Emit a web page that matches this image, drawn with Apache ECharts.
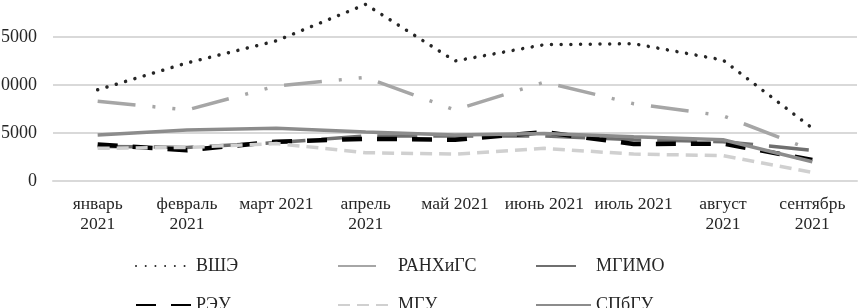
<!DOCTYPE html>
<html><head><meta charset="utf-8">
<script src="https://cdn.jsdelivr.net/npm/echarts@6/dist/echarts.min.js"></script>
<style>html,body{margin:0;padding:0;background:#fff;overflow:hidden}#c{width:860px;height:319px;margin-top:-11px}</style>
</head><body><div id="c"></div>
<script>
const categories = ['январь\n2021','февраль\n2021','март 2021','апрель\n2021','май 2021','июнь 2021','июль 2021','август\n2021','сентябрь\n2021'];
const hse   = [9500, 12300, 14600, 18400, 12500, 14200, 14300, 12600, 5500];
const ranepa= [8300, 7400, 9900, 10800, 7400, 10300, 8050, 6800, 3200];
const mgimo = [3600, 3500, 4000, 4700, 4700, 4700, 4300, 4100, 3200];
const reu   = [3800, 3200, 4100, 4400, 4300, 5100, 3850, 3900, 2200];
const msu   = [3400, 3500, 3900, 2950, 2800, 3400, 2800, 2650, 900];
const spbu  = [4800, 5300, 5500, 5100, 4800, 4950, 4600, 4300, 2000];
const yTicks = [0, 5000, 10000, 15000, 20000];

const font = '"Liberation Serif", "Times New Roman", serif';
function s(name, data, color, width, type, cap){
  return {name, type:'line', data, symbol:'none', smooth:false,
    lineStyle:{color, width, type, cap: cap||'butt'}, itemStyle:{color}};
}
const series = [
  s('ВШЭ', hse, '#262626', 3.5, [0.01, 9.7], 'round'),
  s('РАНХиГС', ranepa, '#a6a6a6', 3.5, [38,17,3,17,3,17]),
  s('МГИМО', mgimo, '#6f6f6f', 3.5, [40,16]),
  s('РЭУ', reu, '#000000', 4.5, [20,15]),
  s('МГУ', msu, '#d0d0d0', 3.5, [12,7]),
  s('СПбГУ', spbu, '#8c8c8c', 3.5, 'solid')
];
function lg(name, left, top){
  return {data:[name], left, top, itemWidth:55, itemHeight:14, padding:0,
    itemStyle:{opacity:0, borderWidth:0},
    textStyle:{fontFamily:font, fontSize:18, color:'#262626'}};
}
const chart = echarts.init(document.getElementById('c'));
chart.setOption({
  animation:false,
  grid:{left:53, right:3, top:0, bottom:127, outerBoundsMode:'none', containLabel:false},
  xAxis:{type:'category', data:categories, boundaryGap:true,
    axisLine:{lineStyle:{color:'#d9d9d9', width:2}}, axisTick:{show:false},
    axisLabel:{interval:0, fontFamily:font, fontSize:17.5, color:'#262626', lineHeight:20, margin:13}},
  yAxis:{type:'value', min:yTicks[0], max:yTicks[yTicks.length-1], interval:5000,
    axisLine:{show:false}, axisTick:{show:false},
    splitLine:{lineStyle:{color:'#d9d9d9', width:2}},
    axisLabel:{fontFamily:font, fontSize:18, color:'#262626', margin:16, formatter:v=>String(v)}},
  legend:[
    lg('ВШЭ',135,268), lg('РАНХиГС',337,268), lg('МГИМО',535,268),
    lg('РЭУ',135,307), lg('МГУ',337,307), lg('СПбГУ',535,307)
  ],
  series
});
</script></body></html>
